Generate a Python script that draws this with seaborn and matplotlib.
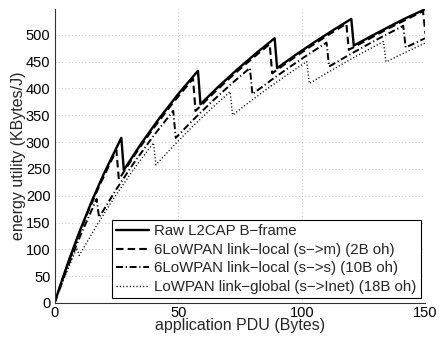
import matplotlib
matplotlib.use("Agg")
import matplotlib.pyplot as plt
import seaborn as sns
import pandas as pd

# ---- data ----
labels = [
    "Raw L2CAP B\u2212frame",
    "6LoWPAN link\u2212local (s\u2212>m) (2B oh)",
    "6LoWPAN link\u2212local (s\u2212>s) (10B oh)",
    "LoWPAN link\u2212global (s\u2212>Inet) (18B oh)",
]

x_raw = [0, 1, 3, 6, 10, 15, 20, 27, 28, 35, 42, 50, 58, 59, 66, 74, 82, 89,
         90, 98, 105, 113, 120, 121, 128, 135, 142, 150]
y_raw = [0, 14.4, 42.4, 82.3, 132.0, 189.3, 241.7, 307.9, 248.0, 297.1, 342.2,
         389.6, 432.9, 370.7, 402.2, 436.0, 467.6, 493.7, 438.0, 464.3, 486.1,
         509.8, 529.7, 480.0, 497.5, 514.5, 531.0, 548.0]

x_2b = [0, 1, 4, 8, 13, 18, 25, 26, 33, 40, 48, 56, 57, 64, 72, 80, 87, 88, 96,
        103, 111, 118, 119, 126, 133, 140, 149, 150]
y_2b = [0, 14.1, 54.9, 105.6, 164.0, 217.5, 285.1, 230.3, 280.1, 325.9, 374.0,
        418.0, 358.1, 390.0, 424.2, 456.2, 482.6, 428.3, 454.8, 476.8, 500.8,
        520.8, 472.0, 489.5, 507.0, 523.5, 544.0, 502.0]

x_10b = [0, 1, 5, 10, 17, 18, 25, 32, 40, 48, 49, 56, 64, 72, 79, 80, 88, 95,
         103, 110, 111, 118, 125, 132, 141, 142, 146, 150]
y_10b = [0, 13.1, 63.1, 120.8, 193.9, 159.5, 212.2, 260.7, 311.6, 358.3, 307.8,
         341.3, 377.1, 410.6, 438.2, 389.4, 416.9, 439.8, 464.7, 485.5, 440.9,
         459.7, 477.8, 495.3, 516.8, 476.4, 485.3, 493.9]

x_18b = [0, 1, 5, 9, 10, 17, 24, 32, 40, 41, 48, 56, 64, 71, 72, 80, 87, 95,
         102, 103, 110, 117, 124, 133, 134, 142, 150]
y_18b = [0, 12.2, 58.9, 102.6, 88.6, 144.3, 195.6, 249.3, 298.6, 257.6, 292.5,
         330.0, 365.0, 393.9, 350.4, 379.0, 402.7, 428.6, 450.2, 409.1, 428.5,
         447.2, 465.2, 487.4, 449.6, 467.6, 485.0]

x_ticks = [0, 50, 100, 150]
y_ticks = [0, 50, 100, 150, 200, 250, 300, 350, 400, 450, 500]

series = [(x_raw, y_raw), (x_2b, y_2b), (x_10b, y_10b), (x_18b, y_18b)]

# ---- styling ----
sns.set_style("white")
plt.rcParams["font.family"] = ["Liberation Sans", "DejaVu Sans"]

fig = plt.figure(figsize=(4.4, 3.37), dpi=100)
ax = fig.add_axes([0.124, 0.101, 0.843, 0.872])

styles = [
    dict(linestyle="-", linewidth=1.7),
    dict(linestyle=(0, (3.6, 2.0)), linewidth=1.5),
    dict(linestyle=(0, (3.6, 1.4, 0.6, 1.4)), linewidth=1.4),
    dict(linestyle=(0, (0.8, 1.6)), linewidth=1.0),
]

for (xs, ys), lab, st in zip(series, labels, styles):
    df = pd.DataFrame({"x": xs, "y": ys})
    sns.lineplot(data=df, x="x", y="y", ax=ax, color="black", sort=False,
                 estimator=None, label=lab, **st)

ax.set_xlim(0, 150)
ax.set_ylim(0, 548)
ax.set_xticks(x_ticks)
ax.set_yticks(y_ticks)
ax.tick_params(axis="both", labelsize=10.5, direction="in", length=3,
               color="#333333", labelcolor="black")
ax.tick_params(axis="x", pad=2)
ax.tick_params(axis="y", pad=3)
ax.grid(True, linestyle=(0, (1, 3)), color="#b5b5b5", linewidth=0.6)
for s in ["top", "right"]:
    ax.spines[s].set_visible(False)
for s in ["left", "bottom"]:
    ax.spines[s].set_color("#333333")
    ax.spines[s].set_linewidth(0.8)

ax.set_xlabel("application PDU (Bytes)", fontsize=11.5, labelpad=-1)
ax.set_ylabel("energy utility (KBytes/J)", fontsize=11.5, labelpad=0)

leg = ax.legend(loc="lower right", bbox_to_anchor=(0.988, 0.017),
                borderaxespad=0, fontsize=10.8, frameon=True, fancybox=False,
                framealpha=1, edgecolor="black", handlelength=2.2,
                handletextpad=0.35, labelspacing=0.3, borderpad=0.28)
leg.get_frame().set_linewidth(0.8)

fig.savefig("out.png", dpi=100)
